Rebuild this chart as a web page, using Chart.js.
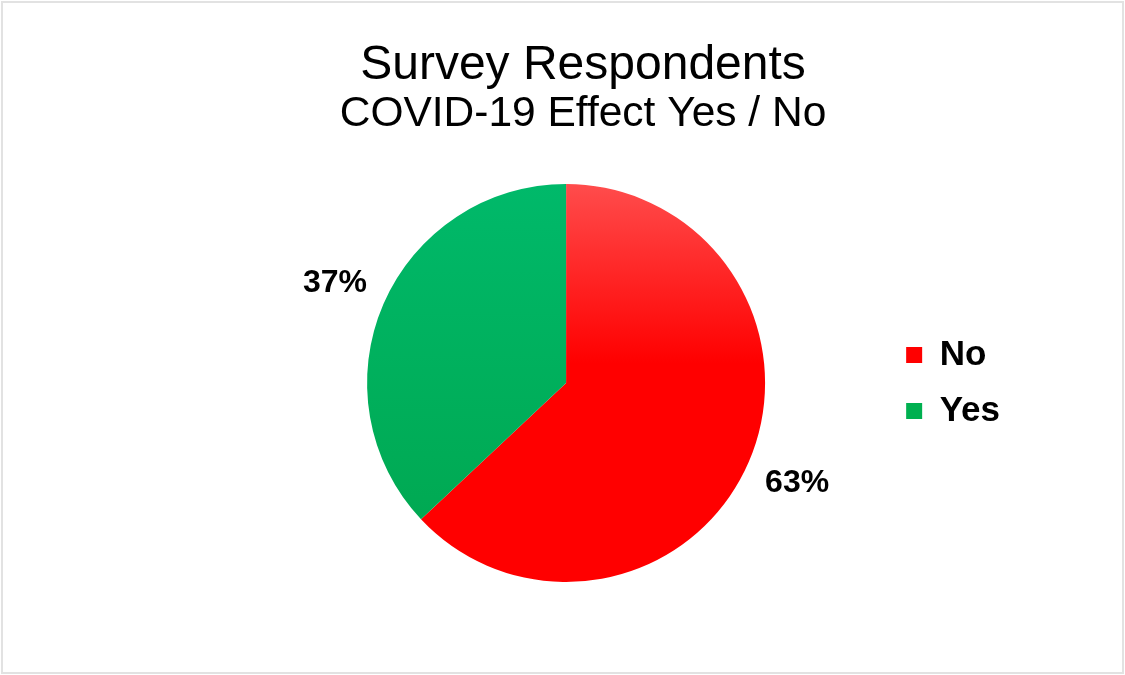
<!DOCTYPE html>
<html>
<head>
<meta charset="utf-8">
<script src="https://cdn.jsdelivr.net/npm/chart.js@4"></script>
<style>
  html, body { margin: 0; padding: 0; background: #fff; }
  #wrap { position: absolute; left: 0; top: 0; width: 1125px; height: 675px; }
  #frame { position: absolute; left: 1px; top: 1px; width: 1123px; height: 673px;
           box-sizing: border-box; border: 2px solid #e2e2e2; pointer-events: none; }
</style>
</head>
<body>
<div id="wrap"><canvas id="pie-chart" width="1125" height="675"></canvas></div>
<div id="frame"></div>
<script>
const categories = ['No', 'Yes'];
const shares = [63, 37];
const solidColors = ['#ff0000', '#00b050'];

const FONT = "'Liberation Sans', Arial, Helvetica, sans-serif";
const PIE_R = 199;

// vertical gradient, lighter at the top of the pie
function sliceFill(ctx) {
  const chart = ctx.chart;
  const area = chart.chartArea;
  if (!area) return solidColors[ctx.dataIndex];
  const cy = (area.top + area.bottom) / 2;
  const g = chart.ctx.createLinearGradient(0, cy - PIE_R, 0, cy + PIE_R);
  if (ctx.dataIndex === 0) {
    g.addColorStop(0, '#ff4c4c');
    g.addColorStop(0.45, '#ff0000');
    g.addColorStop(1, '#ff0000');
  } else {
    g.addColorStop(0, '#00b96a');
    g.addColorStop(1, '#00a64e');
  }
  return g;
}

// percent labels outside the slices
const outsideLabels = {
  id: 'outsideLabels',
  afterDatasetsDraw(chart) {
    const c = chart.ctx;
    const meta = chart.getDatasetMeta(0);
    c.save();
    c.font = 'bold 32px ' + FONT;
    c.fillStyle = '#000';
    c.textAlign = 'center';
    c.textBaseline = 'middle';
    meta.data.forEach((arc, i) => {
      const mid = (arc.startAngle + arc.endAngle) / 2;
      const r = arc.outerRadius * 1.265;
      c.fillText(shares[i] + '%', arc.x + Math.cos(mid) * r, arc.y + Math.sin(mid) * r);
    });
    c.restore();
  }
};

// empty box on the left so the pie sits left of the title's centre
const leftSpacer = {
  id: 'leftSpacer',
  beforeInit(chart) {
    Chart.layouts.addBox(chart, {
      position: 'left',
      fullSize: false,
      weight: 0,
      options: {},
      left: 0, top: 0, right: 0, bottom: 0, width: 0, height: 0,
      isHorizontal() { return false; },
      update(maxWidth, maxHeight) { this.width = 91; this.height = maxHeight; },
      draw() {}
    });
  }
};

new Chart(document.getElementById('pie-chart'), {
  type: 'pie',
  data: {
    labels: categories,
    datasets: [{
      data: shares,
      backgroundColor: sliceFill,
      borderWidth: 0,
      radius: PIE_R
    }]
  },
  options: {
    responsive: false,
    animation: false,
    layout: { padding: { top: 42, bottom: 49, left: 156, right: 115 } },
    plugins: {
      title: {
        display: true,
        text: 'Survey Respondents',
        color: '#000',
        font: { family: FONT, size: 48, weight: 'normal', lineHeight: 1 },
        padding: { top: 0, bottom: 3 }
      },
      subtitle: {
        display: true,
        text: 'COVID-19 Effect Yes / No',
        color: '#000',
        font: { family: FONT, size: 42.5, weight: 'normal', lineHeight: 1 },
        padding: { top: 0, bottom: 4.5 }
      },
      legend: {
        position: 'right',
        fullSize: false,
        labels: {
          color: '#000',
          font: { family: FONT, size: 35, weight: 'bold' },
          boxWidth: 16,
          boxHeight: 16,
          padding: 21,
          generateLabels(chart) {
            return categories.map((name, i) => ({
              text: name,
              fillStyle: solidColors[i],
              strokeStyle: solidColors[i],
              lineWidth: 0,
              hidden: false,
              index: i
            }));
          }
        }
      },
      tooltip: { enabled: false }
    }
  },
  plugins: [outsideLabels, leftSpacer]
});
</script>
</body>
</html>
